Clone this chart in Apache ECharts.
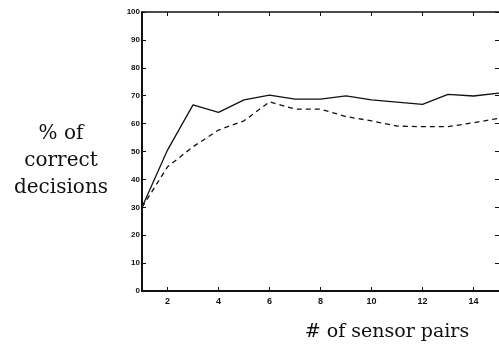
<!DOCTYPE html>
<html>
<head>
<meta charset="utf-8">
<script src="https://cdn.jsdelivr.net/npm/echarts@6/dist/echarts.min.js"></script>
<style>
  html, body { margin: 0; padding: 0; background: #fff; }
  #chart { width: 499px; height: 347px; }
</style>
</head>
<body>
<div id="chart"></div>
<script>
// # of sensor pairs
const pairs = ['1', '2', '3', '4', '5', '6', '7', '8', '9', '10', '11', '12', '13', '14', '15'];
// % of correct decisions
const solidSeries = [30, 50.5, 66.7, 64, 68.5, 70.2, 68.8, 68.8, 69.9, 68.5, 67.7, 66.9, 70.5, 69.9, 70.9];
const dashedSeries = [30, 44.5, 51.7, 57.7, 61, 67.8, 65.2, 65.2, 62.5, 61, 59.1, 58.9, 58.9, 60.3, 61.9];

const evenOnly = (idx, val) => Number(val) % 2 === 0;

const chart = echarts.init(document.getElementById('chart'));

const option = {
    animation: false,
    backgroundColor: '#fff',
    grid: { left: 142, right: 0, top: 12, bottom: 56 },
    graphic: [
        {
            type: 'text',
            style: {
                text: '% of\ncorrect\ndecisions',
                x: 61, y: 120,
                textAlign: 'center',
                font: '20px "DejaVu Serif", serif',
                lineHeight: 27,
                fill: '#111'
            }
        },
        {
            type: 'text',
            style: {
                text: '# of sensor pairs',
                x: 387, y: 323,
                textAlign: 'center',
                font: '19px "DejaVu Serif", serif',
                fill: '#111'
            }
        }
    ],
    xAxis: [
        {
            type: 'category',
            data: pairs,
            boundaryGap: false,
            axisLine: { onZero: false, lineStyle: { color: '#111', width: 2 } },
            axisTick: { inside: true, length: 4, interval: evenOnly, lineStyle: { color: '#111' } },
            axisLabel: {
                interval: evenOnly, color: '#111', fontSize: 9, fontWeight: 'bold',
                fontFamily: 'Arial, "Liberation Sans", sans-serif', margin: 6
            },
            splitLine: { show: false }
        },
        {
            type: 'category',
            data: pairs,
            boundaryGap: false,
            position: 'top',
            axisLine: { onZero: false, lineStyle: { color: '#111', width: 1.5 } },
            axisTick: { inside: true, length: 4, interval: evenOnly, lineStyle: { color: '#111' } },
            axisLabel: { show: false },
            splitLine: { show: false }
        }
    ],
    yAxis: [
        {
            type: 'value',
            min: 0, max: 100, interval: 10,
            axisLine: { show: true, onZero: false, lineStyle: { color: '#111', width: 2 } },
            axisTick: { show: true, inside: true, length: 4, lineStyle: { color: '#111' } },
            axisLabel: {
                color: '#111', fontSize: 8, fontWeight: 'bold',
                fontFamily: 'Arial, "Liberation Sans", sans-serif', margin: 2
            },
            splitLine: { show: false }
        },
        {
            type: 'value',
            position: 'right',
            min: 0, max: 100, interval: 10,
            axisLine: { show: true, onZero: false, lineStyle: { color: '#111', width: 1 } },
            axisTick: { show: true, inside: true, length: 4, lineStyle: { color: '#111' } },
            axisLabel: { show: false },
            splitLine: { show: false }
        }
    ],
    series: [
        {
            name: 'solid',
            type: 'line',
            data: solidSeries,
            symbol: 'none',
            lineStyle: { color: '#111', width: 1.3, type: 'solid' }
        },
        {
            name: 'dashed',
            type: 'line',
            data: dashedSeries,
            symbol: 'none',
            lineStyle: { color: '#111', width: 1.3, type: [5, 4] }
        }
    ]
};

chart.setOption(option);
</script>
</body>
</html>
